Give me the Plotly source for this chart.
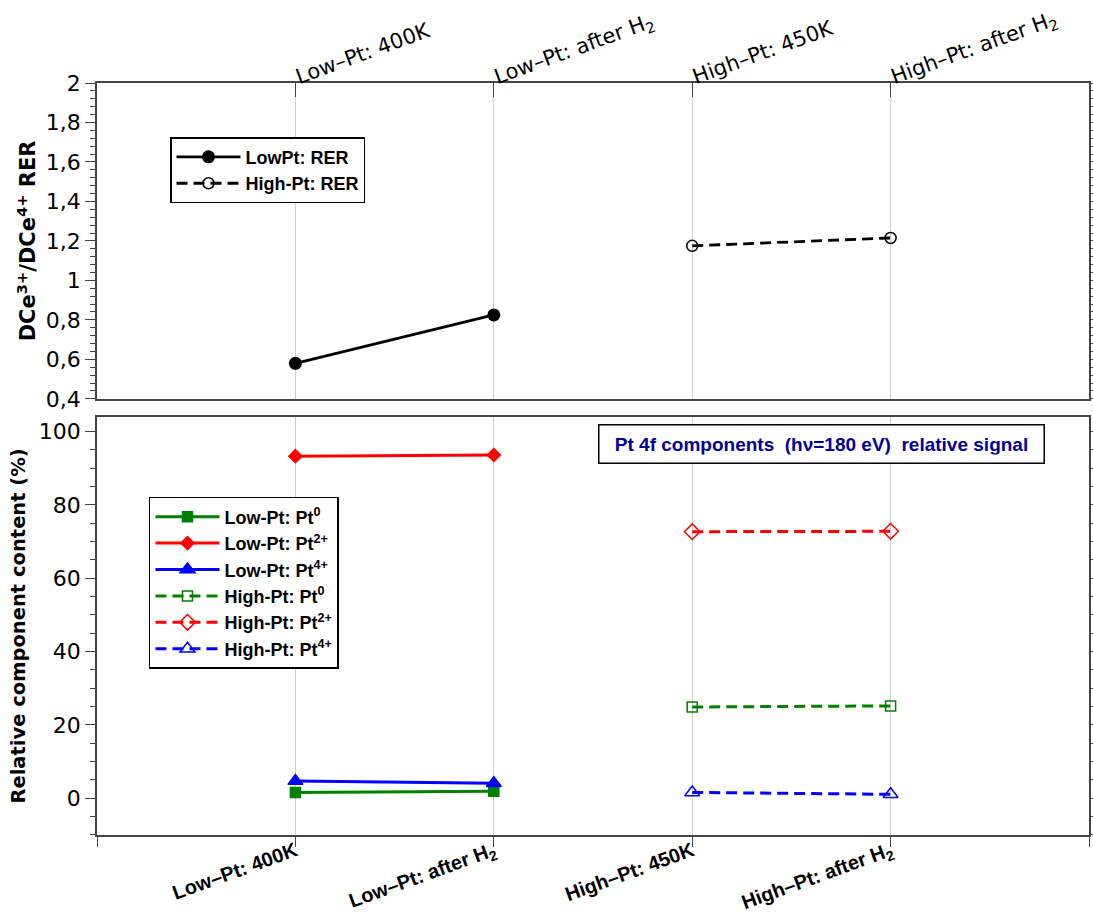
import plotly.graph_objects as go

# Sample stages (shared x categories of both panels)
stages = ["Low–Pt: 400K", "Low–Pt: after H<sub>2</sub>",
          "High–Pt: 450K", "High–Pt: after H<sub>2</sub>"]
low_stages = stages[:2]
high_stages = stages[2:]

# Upper panel: DCe3+/DCe4+ resonant enhancement ratio
low_rer = [0.58, 0.825]
high_rer = [1.175, 1.215]

# Lower panel: Pt 4f component content (%)
low_pt0 = [1.6, 1.9]
low_pt2 = [93.3, 93.6]
low_pt4 = [4.7, 4.1]
high_pt0 = [24.9, 25.2]
high_pt2 = [72.7, 72.8]
high_pt4 = [1.6, 1.1]

pos = {s: i for i, s in enumerate(stages)}
lx = [pos[s] for s in low_stages]
hx = [pos[s] for s in high_stages]

GREEN, RED, BLUE = "#008000", "#ff0000", "#0000ff"
DASH = "11px,6px"

fig = go.Figure()

# --- upper panel ---
fig.add_trace(go.Scatter(x=lx, y=low_rer, xaxis="x2", yaxis="y2", legend="legend",
                         name="<b>LowPt: RER</b>", mode="lines+markers",
                         line=dict(color="black", width=2.8),
                         marker=dict(symbol="circle", size=13, color="black")))
fig.add_trace(go.Scatter(x=hx, y=high_rer, xaxis="x2", yaxis="y2", legend="legend",
                         name="<b>High-Pt: RER</b>", mode="lines+markers",
                         line=dict(color="black", width=2.8, dash=DASH),
                         marker=dict(symbol="circle-open", size=11, color="black",
                                     line=dict(width=1.5))))

# --- lower panel ---
def comp(x, y, name, color, symbol, size, dash=None):
    fig.add_trace(go.Scatter(x=x, y=y, xaxis="x", yaxis="y", legend="legend2",
                             name="<b>%s</b>" % name, mode="lines+markers",
                             line=dict(color=color, width=3, dash=dash),
                             marker=dict(symbol=symbol, size=size, color=color,
                                         line=dict(width=1.5, color=color))))

comp(lx, low_pt0, "Low-Pt: Pt<sup>0</sup>", GREEN, "square", 10)
comp(lx, low_pt2, "Low-Pt: Pt<sup>2+</sup>", RED, "diamond", 10)
comp(lx, low_pt4, "Low-Pt: Pt<sup>4+</sup>", BLUE, "triangle-up", 13)
comp(hx, high_pt0, "High-Pt: Pt<sup>0</sup>", GREEN, "square-open", 10, DASH)
comp(hx, high_pt2, "High-Pt: Pt<sup>2+</sup>", RED, "diamond-open", 12, DASH)
comp(hx, high_pt4, "High-Pt: Pt<sup>4+</sup>", BLUE, "triangle-up-open", 13, DASH)

AX = "#444444"
GRID = "#cfcfcf"
tick_font = dict(family="DejaVu Sans", size=22, color="black")

fig.update_layout(
    width=1093, height=913,
    margin=dict(l=97, r=4, t=83, b=78),
    paper_bgcolor="white", plot_bgcolor="white",
    separators=", ",
    showlegend=True,
    xaxis=dict(domain=[0, 1], anchor="y", range=[-1, 4], automargin=False,
               tickmode="array", tickvals=[-1, 0, 1, 2, 3, 4],
               ticktext=[""] + ["<b>%s</b>" % s for s in stages] + [""],
               tickangle=-20, ticks="outside", ticklen=10, tickcolor=AX,
               ticklabelstandoff=-15,
               tickfont=dict(family="Liberation Sans", size=20, color="black"),
               showgrid=True, gridcolor=GRID, gridwidth=1,
               showline=True, linecolor=AX, linewidth=1.5, mirror=True,
               zeroline=False),
    xaxis2=dict(domain=[0, 1], anchor="y2", range=[-1, 4], side="top", automargin=False,
                tickmode="array", tickvals=[0, 1, 2, 3], ticktext=stages,
                tickangle=-20, ticks="inside", ticklen=14, tickcolor=AX,
                ticklabelstandoff=-12,
                tickfont=dict(family="DejaVu Sans", size=21, color="black"),
                showgrid=True, gridcolor=GRID, gridwidth=1,
                showline=True, linecolor=AX, linewidth=1.5, mirror=True,
                zeroline=False),
    yaxis=dict(domain=[0, 0.556], anchor="x", range=[-10, 104], automargin=False,
               tick0=0, dtick=20, ticks="outside", ticklen=10, tickcolor=AX,
               minor=dict(dtick=5, tick0=0, ticks="outside", ticklen=5, tickcolor=AX),
               tickfont=tick_font, showgrid=False, zeroline=False,
               showline=True, linecolor=AX, linewidth=1.5, mirror="ticks",
               title=dict(text="<b>Relative component content (%)</b>",
                          font=dict(family="DejaVu Sans", size=19.5, color="black"),
                          standoff=8)),
    yaxis2=dict(domain=[0.58, 1], anchor="x2", range=[0.4, 2], automargin=False,
                tick0=0.4, dtick=0.2, ticks="outside", ticklen=10, tickcolor=AX,
                minor=dict(dtick=0.04, tick0=0.4, ticks="outside", ticklen=5, tickcolor=AX),
                tickfont=tick_font, showgrid=False, zeroline=False,
                showline=True, linecolor=AX, linewidth=1.5, mirror="ticks",
                title=dict(text="<b>DCe<sup>3+</sup>/DCe<sup>4+</sup> RER</b>",
                           font=dict(family="DejaVu Sans", size=21, color="black"),
                           standoff=4)),
    legend=dict(x=0.0736, y=0.928, xanchor="left", yanchor="top",
                bgcolor="white", bordercolor="black", borderwidth=1.5,
                font=dict(family="Liberation Sans", size=18, color="black"),
                tracegroupgap=0, itemwidth=64),
    legend2=dict(x=0.0524, y=0.4495, xanchor="left", yanchor="top",
                 bgcolor="white", bordercolor="black", borderwidth=1.5,
                 font=dict(family="Liberation Sans", size=18, color="black"),
                 tracegroupgap=0, itemwidth=64),
    annotations=[dict(text="<b>Pt 4f components  (hν=180 eV)  relative signal</b>",
                      xref="paper", yref="paper", x=0.73, y=0.52,
                      xanchor="center", yanchor="middle", showarrow=False,
                      font=dict(family="Liberation Sans", size=19, color="#000099"),
                      bgcolor="white", bordercolor="black", borderwidth=1.5,
                      borderpad=8, width=428)],
)

fig.write_html("out.html")
